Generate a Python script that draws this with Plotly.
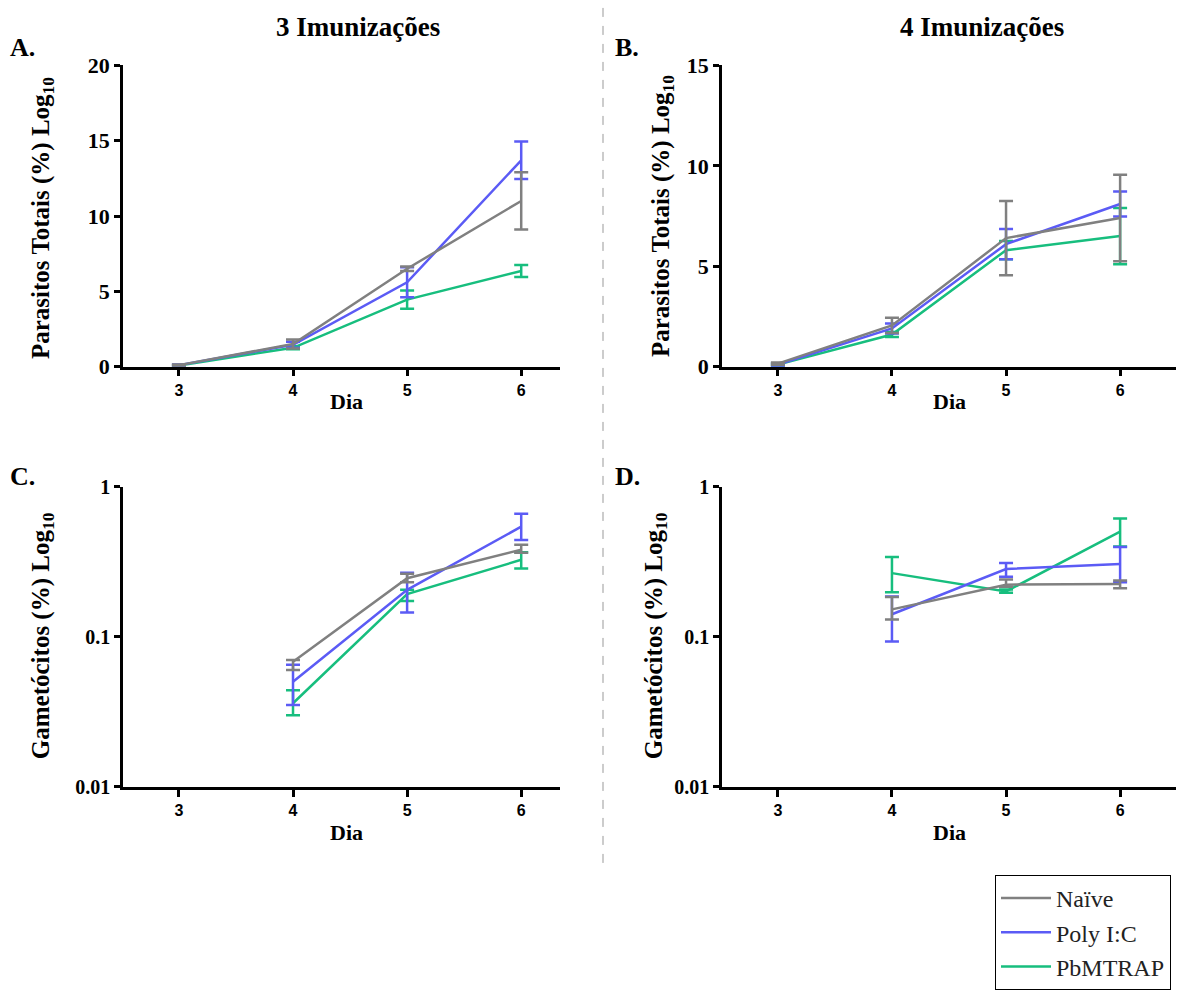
import plotly.graph_objects as go

days = [3, 4, 5, 6]
groups = ["Naïve", "Poly I:C", "PbMTRAP"]
colors = {"Naïve": "#808080", "Poly I:C": "#5B5BF5", "PbMTRAP": "#17BE7E"}

# Panel A: Parasitos totais, 3 imunizações (mean, sem)
A_mean = {"Naïve": [0.10, 1.50, 6.50, 11.0],
          "Poly I:C": [0.10, 1.45, 5.60, 13.7],
          "PbMTRAP": [0.08, 1.25, 4.45, 6.35]}
A_err = {"Naïve": [0.05, 0.30, 0.15, 1.9],
         "Poly I:C": [0.05, 0.20, 1.00, 1.25],
         "PbMTRAP": [0.03, 0.10, 0.60, 0.40]}

# Panel B: Parasitos totais, 4 imunizações
B_mean = {"Naïve": [0.15, 2.05, 6.40, 7.40],
          "Poly I:C": [0.10, 1.90, 6.10, 8.10],
          "PbMTRAP": [0.10, 1.60, 5.80, 6.50]}
B_err = {"Naïve": [0.05, 0.38, 1.85, 2.15],
         "Poly I:C": [0.05, 0.25, 0.75, 0.62],
         "PbMTRAP": [0.05, 0.12, 0.45, 1.40]}

# Panel C: Gametócitos, 3 imunizações (mean, upper, lower)
C_mean = {"Naïve": [None, 0.068, 0.245, 0.380],
          "Poly I:C": [None, 0.050, 0.205, 0.540],
          "PbMTRAP": [None, 0.036, 0.192, 0.325]}
C_up = {"Naïve": [None, 0.070, 0.262, 0.410],
        "Poly I:C": [None, 0.065, 0.267, 0.660],
        "PbMTRAP": [None, 0.044, 0.205, 0.365]}
C_lo = {"Naïve": [None, 0.060, 0.230, 0.362],
        "Poly I:C": [None, 0.035, 0.145, 0.440],
        "PbMTRAP": [None, 0.030, 0.173, 0.285]}

# Panel D: Gametócitos, 4 imunizações
D_mean = {"Naïve": [None, 0.152, 0.222, 0.224],
          "Poly I:C": [None, 0.141, 0.282, 0.305],
          "PbMTRAP": [None, 0.265, 0.200, 0.500]}
D_up = {"Naïve": [None, 0.184, 0.240, 0.237],
        "Poly I:C": [None, 0.185, 0.309, 0.395],
        "PbMTRAP": [None, 0.340, 0.206, 0.612]}
D_lo = {"Naïve": [None, 0.130, 0.215, 0.210],
        "Poly I:C": [None, 0.093, 0.251, 0.230],
        "PbMTRAP": [None, 0.198, 0.196, 0.398]}

yticks_A = [0, 5, 10, 15, 20]
yticks_B = [0, 5, 10, 15]
yticks_log = [0.01, 0.1, 1]
yticks_log_text = ["0.01", "0.1", "1"]

W, H = 1179, 990
SERIF = "Liberation Serif"
SANS = "Liberation Sans"

fig = go.Figure()

draw_order = ["PbMTRAP", "Poly I:C", "Naïve"]


def add_sym(mean, err, xa, ya, showleg):
    for g in draw_order:
        fig.add_trace(go.Scatter(
            x=days, y=mean[g], mode="lines", name=g,
            line=dict(color=colors[g], width=2.5),
            error_y=dict(type="data", array=err[g], visible=True,
                         color=colors[g], thickness=2.5, width=7),
            xaxis=xa, yaxis=ya, showlegend=showleg,
            legendrank=groups.index(g) + 1))


def add_asym(mean, up, lo, xa, ya):
    for g in draw_order:
        plus = [None if m is None else u - m for m, u in zip(mean[g], up[g])]
        minus = [None if m is None else m - l for m, l in zip(mean[g], lo[g])]
        fig.add_trace(go.Scatter(
            x=days, y=mean[g], mode="lines", name=g,
            line=dict(color=colors[g], width=2.5),
            error_y=dict(type="data", array=plus, arrayminus=minus, visible=True,
                         color=colors[g], thickness=2.5, width=7),
            xaxis=xa, yaxis=ya, showlegend=False))


add_sym(A_mean, A_err, "x", "y", True)
add_sym(B_mean, B_err, "x2", "y2", False)
add_asym(C_mean, C_up, C_lo, "x3", "y3")
add_asym(D_mean, D_up, D_lo, "x4", "y4")


def px_x(p):
    return p / W


def px_y(p):
    return 1 - p / H


xl_dom = [px_x(123), px_x(560)]
xr_dom = [px_x(722), px_x(1176)]
yt_dom = [px_y(370), px_y(66)]
yb_dom = [px_y(794), px_y(491)]


def bold(v):
    return [f"<b>{t}</b>" for t in v]


xcommon = dict(showline=True, linecolor="black", linewidth=2.5, ticks="outside",
               ticklen=7, tickwidth=2.5, tickcolor="black", showgrid=False,
               zeroline=False, tickvals=days, ticktext=bold([str(d) for d in days]),
               automargin=False,
               tickfont=dict(family=SANS, size=16, color="black"))
ycommon = dict(showline=True, linecolor="black", linewidth=2.5, ticks="outside",
               ticklen=6, tickwidth=2.5, tickcolor="black", showgrid=False,
               zeroline=False, automargin=False)

fig.update_layout(
    template="none",
    width=W, height=H, margin=dict(l=0, r=0, t=0, b=0, pad=0),
    paper_bgcolor="white", plot_bgcolor="white",
    xaxis=dict(domain=xl_dom, range=[2.51, 6.34], anchor="y", **xcommon),
    xaxis2=dict(domain=xr_dom, range=[2.51, 6.49], anchor="y2", **xcommon),
    xaxis3=dict(domain=xl_dom, range=[2.51, 6.34], anchor="y3", **xcommon),
    xaxis4=dict(domain=xr_dom, range=[2.51, 6.49], anchor="y4", **xcommon),
    yaxis=dict(domain=yt_dom, range=[0, 20], anchor="x", tickvals=yticks_A,
               ticktext=bold([str(v) for v in yticks_A]),
               tickfont=dict(family=SERIF, size=22, color="black"), **ycommon),
    yaxis2=dict(domain=yt_dom, range=[0, 15], anchor="x2", tickvals=yticks_B,
                ticktext=bold([str(v) for v in yticks_B]),
                tickfont=dict(family=SERIF, size=22, color="black"), **ycommon),
    yaxis3=dict(domain=yb_dom, type="log", range=[-2, 0], anchor="x3",
                tickvals=yticks_log, ticktext=bold(yticks_log_text),
                tickfont=dict(family=SERIF, size=20, color="black"), **ycommon),
    yaxis4=dict(domain=yb_dom, type="log", range=[-2, 0], anchor="x4",
                tickvals=yticks_log, ticktext=bold(yticks_log_text),
                tickfont=dict(family=SERIF, size=20, color="black"), **ycommon),
    legend=dict(x=px_x(995), y=px_y(883), xanchor="left", yanchor="top",
                bordercolor="black", borderwidth=1, bgcolor="white",
                font=dict(family=SERIF, size=24, color="#222"),
                tracegroupgap=0, itemwidth=50),
    showlegend=True,
)

annots = []


def txt(x, y, t, size, bold_=True, angle=0, family=SERIF, xanchor="center"):
    annots.append(dict(x=px_x(x), y=px_y(y), xref="paper", yref="paper",
                       text=f"<b>{t}</b>" if bold_ else t, showarrow=False,
                       textangle=angle, xanchor=xanchor, yanchor="middle",
                       font=dict(family=family, size=size, color="black")))


txt(358, 27, "3 Imunizações", 27)
txt(982, 27, "4 Imunizações", 27)
txt(8, 48, "A.", 26, xanchor="left")
txt(613, 48, "B.", 26, xanchor="left")
txt(8, 481, "C.", 26, xanchor="left")
txt(613, 481, "D.", 26, xanchor="left")
ylab1 = "Parasitos Totais (%) Log<sub>10</sub>"
ylab2 = "Gametócitos (%) Log<sub>10</sub>"
txt(42, 220, ylab1, 25, angle=-90)
txt(662, 218, ylab1, 25, angle=-90)
txt(42, 642, ylab2, 25, angle=-90)
txt(655, 642, ylab2, 25, angle=-90)
txt(346, 405, "Dia", 22)
txt(949, 405, "Dia", 22)
txt(346, 840, "Dia", 22)
txt(949, 840, "Dia", 22)

fig.update_layout(annotations=annots)
fig.add_shape(type="line", xref="paper", yref="paper",
              x0=px_x(603), x1=px_x(603), y0=px_y(8), y1=px_y(877),
              line=dict(color="#999999", width=1, dash="dash"))

fig.write_html("out.html")
